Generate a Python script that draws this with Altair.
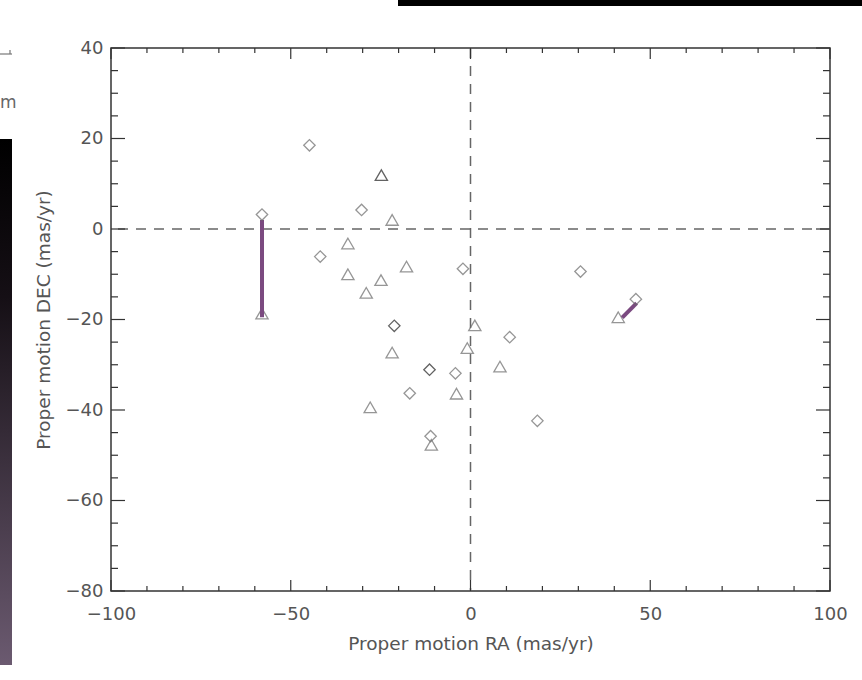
import altair as alt
import pandas as pd

# Proper motions (mas/yr) of the two samples
ra_diamond = [-44.8, -58.0, -30.3, -41.8, -2.1, -21.2, 10.9, -11.4, -4.2, -16.9, 18.6, -11.1, 30.6, 46.0]
dec_diamond = [18.5, 3.2, 4.2, -6.1, -8.8, -21.4, -23.9, -31.1, -31.9, -36.3, -42.4, -45.8, -9.4, -15.5]
n_diamond = [1, 1, 1, 1, 1, 2, 1, 2, 1, 1, 1, 1, 1, 1]

ra_triangle = [-24.8, -21.8, -34.1, -17.8, -34.1, -24.9, -29.0, -58.0, -21.8, -27.9, 1.2, -0.9, 8.2, -3.9, -10.9, 41.1]
dec_triangle = [11.9, 2.0, -3.2, -8.3, -10.0, -11.3, -14.1, -18.7, -27.3, -39.4, -21.3, -26.3, -30.4, -36.4, -47.7, -19.5]
n_triangle = [2, 1, 1, 1, 1, 1, 1, 1, 1, 1, 1, 1, 1, 1, 1, 1]

# Matched pairs joined by a segment
pair_ra1 = [-58.0, 42.2]
pair_dec1 = [-19.5, -19.6]
pair_ra2 = [-58.0, 46.2]
pair_dec2 = [2.0, -16.4]

# Axis ticks
x_major = [-100, -50, 0, 50, 100]
x_minor = [-90, -80, -70, -60, -40, -30, -20, -10, 10, 20, 30, 40, 60, 70, 80, 90]
y_major = [-80, -60, -40, -20, 0, 20, 40]
y_minor = [-75, -70, -65, -55, -50, -45, -35, -30, -25, -15, -10, -5, 5, 10, 15, 25, 30, 35]

W, H = 719, 543
LEFT, TOP = 111, 48
FONT = "DejaVu Sans"
GRAY = "#555555"

xs = alt.Scale(domain=[-100, 100], nice=False, zero=False)
ys = alt.Scale(domain=[-80, 40], nice=False, zero=False)

x_axis = alt.Axis(values=x_major, title="Proper motion RA (mas/yr)", ticks=False, domain=False,
                  grid=False, labelPadding=14, titlePadding=11, labelFontSize=18, titleFontSize=18.5,
                  labelColor=GRAY, titleColor=GRAY, labelFont=FONT, titleFont=FONT,
                  titleFontWeight="normal", labelFlush=False)
y_axis = alt.Axis(values=y_major, title="Proper motion DEC (mas/yr)", ticks=False, domain=False,
                  grid=False, labelPadding=8, titlePadding=12, labelFontSize=18, titleFontSize=18.5,
                  labelColor=GRAY, titleColor=GRAY, labelFont=FONT, titleFont=FONT,
                  titleFontWeight="normal", labelFlush=False)

X = alt.X("ra:Q", scale=xs, axis=x_axis)
Y = alt.Y("dec:Q", scale=ys, axis=y_axis)

dia = pd.DataFrame({"ra": ra_diamond, "dec": dec_diamond, "n": n_diamond})
tri = pd.DataFrame({"ra": ra_triangle, "dec": dec_triangle, "n": n_triangle})
pairs = pd.DataFrame({"ra": pair_ra1, "dec": pair_dec1, "ra2": pair_ra2, "dec2": pair_dec2})

stroke_scale = alt.Scale(domain=[1, 2], range=["#6a6a6a", "#202020"])

# Dashed zero lines
zero_v = alt.Chart(pd.DataFrame({"ra": [0]})).mark_rule(
    color="#666", strokeWidth=1.5, strokeDash=[10, 8]).encode(x=X)
zero_h = alt.Chart(pd.DataFrame({"dec": [0]})).mark_rule(
    color="#666", strokeWidth=1.5, strokeDash=[10, 8]).encode(y=Y)

triangles = alt.Chart(tri).mark_point(shape="triangle-up", size=150, filled=False, strokeWidth=1.3).encode(
    x=X, y=Y, color=alt.Color("n:O", scale=stroke_scale, legend=None))
diamonds = alt.Chart(dia).mark_point(shape="diamond", size=130, filled=False, strokeWidth=1.3).encode(
    x=X, y=Y, color=alt.Color("n:O", scale=stroke_scale, legend=None))
segments = alt.Chart(pairs).mark_rule(color="#7b4a80", strokeWidth=4).encode(
    x=X, y=Y, x2="ra2:Q", y2="dec2:Q")


def xticks(vals, length):
    d = alt.Chart(pd.DataFrame({"ra": vals}))
    bottom = d.mark_rule(color="#333", strokeWidth=1.2).encode(x=X, y=alt.value(H), y2=alt.value(H - length))
    top = d.mark_rule(color="#333", strokeWidth=1.2).encode(x=X, y=alt.value(0), y2=alt.value(length))
    return [bottom, top]


def yticks(vals, length):
    d = alt.Chart(pd.DataFrame({"dec": vals}))
    left = d.mark_rule(color="#333", strokeWidth=1.2).encode(y=Y, x=alt.value(0), x2=alt.value(length))
    right = d.mark_rule(color="#333", strokeWidth=1.2).encode(y=Y, x=alt.value(W), x2=alt.value(W - length))
    return [left, right]


ticks = xticks(x_major, 11) + xticks(x_minor, 5) + yticks(y_major, 14) + yticks(y_minor, 7)

# Page decorations around the figure
one = alt.Chart(pd.DataFrame({"k": [0]}))
top_bar = one.mark_rect(color="black").encode(
    x=alt.value(398 - LEFT), x2=alt.value(862 - LEFT), y=alt.value(-TOP), y2=alt.value(6 - TOP))
side_strip = one.mark_rect(
    color=alt.Gradient(gradient="linear", x1=0, x2=0, y1=0, y2=1,
                       stops=[alt.GradientStop(color="#000000", offset=0),
                              alt.GradientStop(color="#150f15", offset=0.3),
                              alt.GradientStop(color="#6b5a70", offset=1)])).encode(
    x=alt.value(-LEFT), x2=alt.value(12 - LEFT), y=alt.value(139 - TOP), y2=alt.value(665 - TOP))
frag_line = one.mark_rule(color="#777", strokeWidth=1.2).encode(
    x=alt.value(-LEFT), x2=alt.value(12 - LEFT), y=alt.value(54 - TOP))
frag_tick = one.mark_rule(color="#777", strokeWidth=1.2).encode(
    x=alt.value(10 - LEFT), y=alt.value(50 - TOP), y2=alt.value(54 - TOP))
frag_text = one.mark_text(text="m", font=FONT, fontSize=17, color="#666", align="left", baseline="middle").encode(
    x=alt.value(0 - LEFT), y=alt.value(103 - TOP))

chart = alt.layer(
    zero_v, zero_h, *ticks, triangles, segments, diamonds,
    top_bar, side_strip, frag_line, frag_tick, frag_text
).properties(
    width=W, height=H,
    autosize=alt.AutoSizeParams(type="none"),
    padding={"left": LEFT, "top": TOP, "right": 862 - LEFT - W, "bottom": 680 - TOP - H},
    background="white",
).configure_view(stroke="#333", strokeWidth=1.5)

chart.save("out.html", embed_options={"renderer": "svg", "actions": False})
